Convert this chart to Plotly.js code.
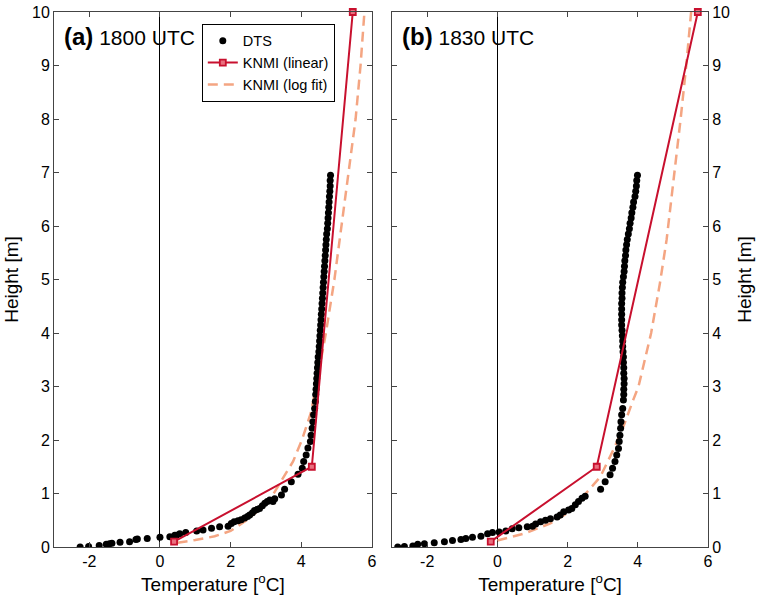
<!DOCTYPE html>
<html><head><meta charset="utf-8">
<script src="https://cdn.plot.ly/plotly-3.0.1.min.js"></script>
<style>html,body{margin:0;padding:0;background:#fff}#chart{width:760px;height:603px}</style>
</head><body><div id="chart"></div>
<script>
// Tick labels
const xTickVals = [-2, 0, 2, 4, 6];
const xTickText = ['-2', '0', '2', '4', '6'];
const yTickVals = [0,1,2,3,4,5,6,7,8,9,10];
const yTickText = ['0','1','2','3','4','5','6','7','8','9','10'];

// Panel (a) 1800 UTC
const dtsA_T = [-2.26,-2.02,-1.72,-1.52,-1.43,-1.36,-1.13,-0.86,-0.68,-0.64,-0.36,0.0,0.28,0.42,0.47,0.56,0.73,1.04,1.22,1.46,1.69,1.93,2.02,2.10,2.21,2.30,2.40,2.48,2.54,2.62,2.68,2.75,2.82,2.90,2.97,3.04,3.11,3.20,3.25,3.44,3.53,3.72,3.91,4.03,4.07,4.14,4.19,4.26,4.28,4.31,4.33,4.35,4.38,4.40,
  4.41,4.42,4.43,4.44,4.45,4.46,4.47,4.48,4.50,4.51,4.52,4.53,4.54,4.55,4.56,4.57,4.58,4.59,4.60,4.61,4.62,4.63,4.64,4.65,4.66,4.67,4.68,4.69,4.70,4.71,4.72,4.74,4.75,4.76,4.77,4.78,4.79,4.80,4.81,4.82,4.82,4.83];
const dtsA_H = [0.00,0.01,0.03,0.05,0.06,0.07,0.09,0.10,0.14,0.15,0.16,0.18,0.19,0.22,0.22,0.25,0.27,0.30,0.32,0.35,0.38,0.39,0.44,0.47,0.49,0.51,0.54,0.57,0.60,0.64,0.68,0.70,0.72,0.77,0.82,0.85,0.88,0.85,0.90,0.97,1.08,1.22,1.36,1.47,1.60,1.72,1.85,1.97,2.09,2.22,2.34,2.47,2.59,2.72,
  2.85,2.95,3.05,3.15,3.25,3.35,3.45,3.55,3.65,3.75,3.85,3.95,4.05,4.15,4.25,4.35,4.45,4.55,4.65,4.75,4.85,4.95,5.05,5.15,5.25,5.35,5.45,5.55,5.65,5.75,5.85,5.95,6.05,6.15,6.25,6.35,6.45,6.55,6.65,6.75,6.85,6.95];
const linA_T = [0.40, 4.30, 5.46];
const linA_H = [0.10, 1.50, 10.0];
const logA_T = [0.50,1.00,1.55,2.00,2.45,2.82,3.22,3.50,3.77,4.02,4.27,4.42,4.70,4.94,5.14,5.36,5.54,5.68,5.79];
const logA_H = [0.08,0.13,0.20,0.30,0.50,0.70,1.00,1.30,1.60,2.00,2.50,3.00,4.00,5.00,6.00,7.00,8.00,9.00,10.0];

// Panel (b) 1830 UTC
const dtsB_T = [-2.84,-2.65,-2.41,-2.27,-2.08,-1.80,-1.51,-1.28,-1.04,-0.90,-0.71,-0.47,-0.28,-0.14,0.05,0.24,0.42,0.61,0.85,1.00,1.09,1.23,1.37,1.51,1.70,1.79,1.89,2.03,2.12,2.22,2.31,2.41,2.50,2.94,3.07,3.21,3.28,3.35,3.40,3.45,3.47,3.49,3.51,3.52,3.54,3.57,
  3.59,3.60,3.60,3.61,3.61,3.60,3.60,3.59,3.59,3.58,3.57,3.57,3.56,3.55,3.54,3.54,3.54,3.54,3.54,3.55,3.55,3.56,3.57,3.59,3.61,3.62,3.63,3.65,3.66,3.68,3.70,3.73,3.76,3.78,3.81,3.83,3.86,3.88,3.92,3.94,3.96,3.97,3.99];
const dtsB_H = [0.00,0.01,0.02,0.05,0.06,0.08,0.10,0.12,0.14,0.16,0.18,0.20,0.25,0.27,0.28,0.30,0.34,0.36,0.38,0.39,0.43,0.47,0.50,0.53,0.56,0.60,0.66,0.69,0.72,0.79,0.85,0.91,0.95,1.08,1.22,1.35,1.47,1.60,1.72,1.84,1.97,2.09,2.22,2.34,2.47,2.59,
  2.75,2.85,2.95,3.05,3.15,3.25,3.35,3.45,3.55,3.65,3.75,3.85,3.95,4.05,4.15,4.25,4.35,4.45,4.55,4.65,4.75,4.85,4.95,5.05,5.15,5.25,5.35,5.45,5.55,5.65,5.75,5.85,5.95,6.05,6.15,6.25,6.35,6.45,6.55,6.65,6.75,6.85,6.95];
const linB_T = [-0.19, 2.83, 5.71];
const linB_H = [0.10, 1.50, 10.0];
const logB_T = [0.00,0.76,1.51,1.98,2.36,2.93,3.30,3.59,3.87,4.02,4.38,4.63,4.82,5.05,5.22,5.38,5.52];
const logB_H = [0.12,0.25,0.44,0.63,0.88,1.31,1.81,2.25,2.75,3.00,4.00,4.93,5.74,7.00,8.00,9.00,10.0];

const RED = '#c8102e', SALMON = '#f4a582';
const FONT = 'Liberation Sans, Arial, Helvetica, sans-serif';

function traces(T,H,lT,lH,gT,gH,xa,ya,show){
  return [
    {x:gT,y:gH,xaxis:xa,yaxis:ya,type:'scatter',mode:'lines',name:'KNMI (log fit)',
     line:{color:SALMON,width:2.5,dash:'10px,6px'},showlegend:show,legendrank:3},
    {x:T,y:H,xaxis:xa,yaxis:ya,type:'scatter',mode:'markers',name:'DTS',
     marker:{color:'#000',size:7},showlegend:show,legendrank:1},
    {x:lT,y:lH,xaxis:xa,yaxis:ya,type:'scatter',mode:'lines+markers',name:'KNMI (linear)',
     line:{color:RED,width:2},marker:{symbol:'square',size:6,color:'#e8707f',line:{width:1.8,color:RED}},
     cliponaxis:false,showlegend:show,legendrank:2}
  ];
}
const data = [].concat(
  traces(dtsA_T,dtsA_H,linA_T,linA_H,logA_T,logA_H,'x','y',true),
  traces(dtsB_T,dtsB_H,linB_T,linB_H,logB_T,logB_H,'x2','y2',false)
);

const axCommon = {showline:true,linecolor:'#444',linewidth:1,mirror:'ticks',ticks:'inside',ticklen:5,
  tickcolor:'#444',showgrid:false,tickfont:{size:16,color:'#000',family:FONT}};
const xAx = Object.assign({},axCommon,{range:[-3,6],tickmode:'array',tickvals:xTickVals,ticktext:xTickText,
  zeroline:true,zerolinecolor:'#000',zerolinewidth:1,
  title:{text:'Temperature [<sup>o</sup>C]',font:{size:19,color:'#000',family:FONT},standoff:8}});
const yAx = Object.assign({},axCommon,{range:[0,10],tickmode:'array',tickvals:yTickVals,ticktext:yTickText,zeroline:false,
  title:{text:'Height [m]',font:{size:19,color:'#000',family:FONT},standoff:8}});

const layout = {
  width:760,height:603,
  margin:{l:54,r:52,t:12,b:56},
  paper_bgcolor:'#fff',plot_bgcolor:'#fff',
  font:{family:FONT,color:'#000'},
  xaxis:Object.assign({},xAx,{domain:[0,0.486],anchor:'y'}),
  yaxis:Object.assign({},yAx,{domain:[0,1],anchor:'x'}),
  xaxis2:Object.assign({},xAx,{domain:[0.517,1],anchor:'y2'}),
  yaxis2:Object.assign({},yAx,{domain:[0,1],anchor:'x2',side:'right'}),
  showlegend:true,
  legend:{x:0.226,y:0.978,xanchor:'left',yanchor:'top',bgcolor:'#fff',bordercolor:'#000',borderwidth:1,
    font:{size:14.5,family:FONT,color:'#000'},tracegroupgap:0,traceorder:'normal'},
  annotations:[
    {xref:'x domain',yref:'y domain',x:0.025,y:0.955,xanchor:'left',yanchor:'middle',showarrow:false,
     text:'<span style="font-size:24px"><b>(a)</b></span> 1800 UTC',font:{size:21,family:FONT,color:'#000'}},
    {xref:'x2 domain',yref:'y2 domain',x:0.025,y:0.955,xanchor:'left',yanchor:'middle',showarrow:false,
     text:'<span style="font-size:24px"><b>(b)</b></span> 1830 UTC',font:{size:21,family:FONT,color:'#000'}}
  ]
};
Plotly.newPlot('chart',data,layout,{displayModeBar:false,staticPlot:true});
</script></body></html>
